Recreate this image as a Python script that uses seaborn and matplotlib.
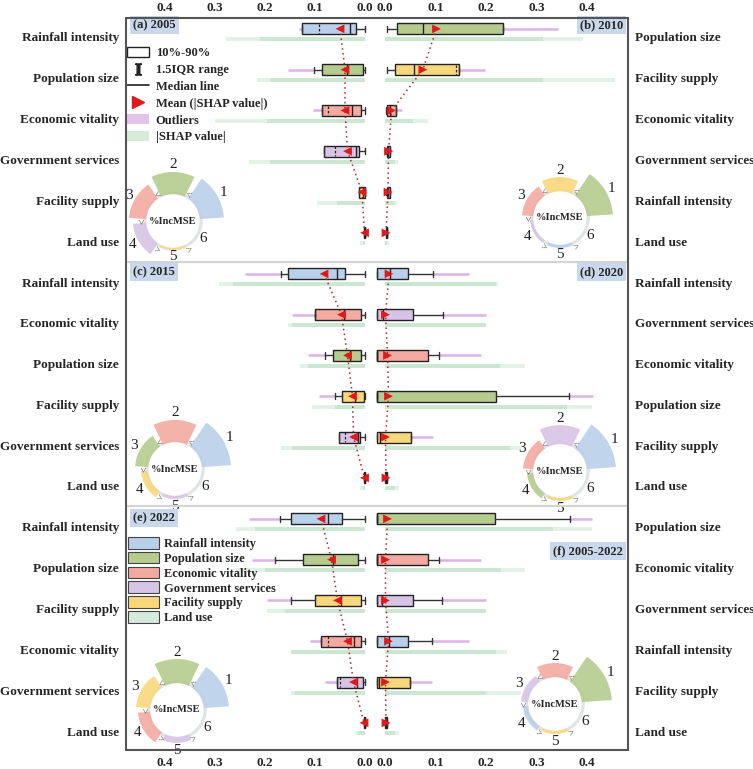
import numpy as np
import matplotlib
matplotlib.use("Agg")
import matplotlib.pyplot as plt
import seaborn as sns
import pandas as pd
from matplotlib.patches import Patch, Rectangle
from matplotlib.lines import Line2D

# ---------------- data ----------------
COLORS = {
    "Rainfall intensity": "#b9d0ea",
    "Population size": "#b5cc8e",
    "Economic vitality": "#f2aaa1",
    "Government services": "#d7c5e5",
    "Facility supply": "#f9d87d",
    "Land use": "#d3eadc",
}
PANELS = ["a", "b", "c", "d", "e", "f"]
TITLES = {"a": "(a) 2005", "b": "(b) 2010", "c": "(c) 2015",
          "d": "(d) 2020", "e": "(e) 2022", "f": "(f) 2005-2022"}

order = {
    "a": ["Rainfall intensity", "Population size", "Economic vitality",
          "Government services", "Facility supply", "Land use"],
    "b": ["Population size", "Facility supply", "Economic vitality",
          "Government services", "Rainfall intensity", "Land use"],
    "c": ["Rainfall intensity", "Economic vitality", "Population size",
          "Facility supply", "Government services", "Land use"],
    "d": ["Rainfall intensity", "Government services", "Economic vitality",
          "Population size", "Facility supply", "Land use"],
    "e": ["Rainfall intensity", "Population size", "Facility supply",
          "Economic vitality", "Government services", "Land use"],
    "f": ["Population size", "Economic vitality", "Government services",
          "Rainfall intensity", "Facility supply", "Land use"],
}
# box statistics of |SHAP value|
whislo = {
    "a": [0.0, 0.0, 0.0, 0.0, 0.0, 0.0],
    "b": [0.003, 0.003, 0.002, 0.002, 0.002, 0.001],
    "c": [0.0, 0.0, 0.0, 0.0, 0.0, 0.0],
    "d": [-0.016, -0.016, -0.016, -0.016, -0.016, 0.0],
    "e": [0.0, 0.0, 0.0, 0.0, 0.0, 0.0],
    "f": [-0.016, -0.016, -0.016, -0.016, -0.016, 0.0],
}
q1 = {
    "a": [0.018, 0.005, 0.009, 0.013, 0.001, 0.0],
    "b": [0.023, 0.019, 0.004, 0.003, 0.003, 0.002],
    "c": [0.040, 0.008, 0.008, 0.003, 0.010, 0.0],
    "d": [-0.016, -0.016, -0.016, -0.016, -0.016, 0.0],
    "e": [0.047, 0.015, 0.009, 0.009, 0.005, 0.0],
    "f": [-0.016, -0.016, -0.016, -0.016, -0.016, 0.0],
}
median = {
    "a": [0.030, 0.037, 0.027, 0.019, 0.004, 0.001],
    "b": [0.076, 0.058, 0.010, 0.006, 0.005, 0.003],
    "c": [0.057, 0.042, 0.030, 0.021, 0.015, 0.001],
    "d": [0.010, -0.003, -0.015, -0.015, -0.009, 0.002],
    "e": [0.075, 0.065, 0.049, 0.023, 0.017, 0.001],
    "f": [-0.015, -0.015, -0.005, 0.007, -0.011, 0.002],
}
q3 = {
    "a": [0.127, 0.087, 0.087, 0.083, 0.012, 0.003],
    "b": [0.233, 0.147, 0.022, 0.010, 0.009, 0.004],
    "c": [0.155, 0.100, 0.065, 0.047, 0.053, 0.003],
    "d": [0.046, 0.055, 0.085, 0.219, 0.051, 0.004],
    "e": [0.148, 0.125, 0.101, 0.088, 0.057, 0.003],
    "f": [0.218, 0.085, 0.055, 0.045, 0.050, 0.004],
}
whishi = {
    "a": [0.127, 0.102, 0.087, 0.083, 0.012, 0.003],
    "b": [0.233, 0.147, 0.022, 0.010, 0.009, 0.004],
    "c": [0.168, 0.100, 0.080, 0.060, 0.053, 0.003],
    "d": [0.096, 0.114, 0.107, 0.365, 0.051, 0.004],
    "e": [0.171, 0.180, 0.149, 0.088, 0.057, 0.003],
    "f": [0.366, 0.106, 0.113, 0.094, 0.050, 0.004],
}
outlier_max = {
    "a": [0.132, 0.154, 0.105, 0.083, 0.012, 0.003],
    "b": [0.343, 0.198, 0.033, 0.013, 0.011, 0.005],
    "c": [0.240, 0.147, 0.115, 0.092, 0.053, 0.004],
    "d": [0.167, 0.200, 0.191, 0.412, 0.095, 0.005],
    "e": [0.233, 0.227, 0.197, 0.111, 0.080, 0.004],
    "f": [0.409, 0.191, 0.200, 0.167, 0.094, 0.005],
}
mean_shap = {
    "a": [0.050, 0.040, 0.040, 0.035, 0.006, 0.001],
    "b": [0.102, 0.075, 0.013, 0.007, 0.006, 0.002],
    "c": [0.082, 0.047, 0.035, 0.025, 0.023, 0.001],
    "d": [0.008, 0.001, 0.005, 0.007, 0.001, 0.002],
    "e": [0.088, 0.067, 0.055, 0.035, 0.023, 0.002],
    "f": [0.005, 0.001, 0.001, 0.007, 0.001, 0.002],
}
inner_dash = {
    "a": [0.092, None, 0.075, 0.060, None, None],
    "b": [None, 0.141, None, None, None, None],
    "c": [None, 0.100, None, None, 0.040, None],
    "d": [None, None, None, None, None, None],
    "e": [None, None, None, 0.075, 0.050, None],
    "f": [None, None, None, None, None, None],
}
# extent of |SHAP value| samples (full and dense part)
shap_max = {
    "a": [0.277, 0.217, 0.300, 0.233, 0.097, 0.010],
    "b": [0.392, 0.456, 0.086, 0.026, 0.024, 0.008],
    "c": [0.293, 0.154, 0.130, 0.107, 0.168, 0.010],
    "d": [0.224, 0.200, 0.277, 0.410, 0.270, 0.028],
    "e": [0.257, 0.257, 0.197, 0.149, 0.149, 0.020],
    "f": [0.410, 0.277, 0.200, 0.241, 0.270, 0.028],
}
shap_dense = {
    "a": [0.210, 0.190, 0.197, 0.190, 0.057, 0.005],
    "b": [0.313, 0.313, 0.056, 0.020, 0.018, 0.004],
    "c": [0.264, 0.147, 0.115, 0.060, 0.147, 0.005],
    "d": [0.220, 0.200, 0.228, 0.360, 0.247, 0.020],
    "e": [0.220, 0.200, 0.160, 0.149, 0.140, 0.015],
    "f": [0.333, 0.230, 0.200, 0.220, 0.200, 0.020],
}
# %IncMSE ring (relative importance, rank 1..6)
incmse = {
    "a": [24, 22, 17, 13, 2, 1],
    "b": [26, 14, 11, 3, 3, 1],
    "c": [29, 22, 13, 7, 3, 1],
    "d": [29, 19, 10, 6, 3, 1],
    "e": [25, 24, 14, 12, 6, 1],
    "f": [30, 14, 7, 5, 3, 1],
}
TICKS = [0.0, 0.1, 0.2, 0.3, 0.4]

# ---------------- style ----------------
sns.set_theme(style="white")
plt.rcParams["font.family"] = ["Liberation Serif", "DejaVu Serif"]
plt.rcParams["font.weight"] = "bold"
plt.rcParams["mathtext.fontset"] = "stix"

W, H, DPI = 753, 769, 100
fig = plt.figure(figsize=(W / DPI, H / DPI), dpi=DPI)
fig.patch.set_facecolor("white")


def px_rect(x0, y0, x1, y1):
    return [x0 / W, 1 - y1 / H, (x1 - x0) / W, (y1 - y0) / H]


ROWS = [(18, 262), (262, 506), (506, 750)]
FIRST_LABEL_Y = [37, 282, 527]
STEP = 40.8
LEFT_X = (126, 372)
RIGHT_X = (375, 628)
LZERO, RZERO, SCALE_L, SCALE_R = 365, 385, 500, 505
RED = "#e0191b"
FS = 9.5

layout = {"a": (0, "L"), "b": (0, "R"), "c": (1, "L"),
          "d": (1, "R"), "e": (2, "L"), "f": (2, "R")}

for p in PANELS:
    row, side = layout[p]
    y0, y1 = ROWS[row]
    if side == "L":
        ax = fig.add_axes(px_rect(LEFT_X[0], y0, LEFT_X[1], y1))
        ax.set_xlim((LZERO - LEFT_X[0]) / SCALE_L, (LZERO - LEFT_X[1]) / SCALE_L)
    else:
        ax = fig.add_axes(px_rect(RIGHT_X[0], y0, RIGHT_X[1], y1))
        ax.set_xlim((RIGHT_X[0] - RZERO) / SCALE_R, (RIGHT_X[1] - RZERO) / SCALE_R)
    fy = FIRST_LABEL_Y[row]
    ax.set_ylim((y1 - fy) / STEP, (y0 - fy) / STEP)
    ax.patch.set_alpha(0)
    for s in ax.spines.values():
        s.set_visible(False)

    cats = np.arange(6)
    box_pos = cats - 0.2
    strip_pos = cats + 0.06
    cols = [COLORS[v] for v in order[p]]

    # |SHAP value| strips
    ax.barh(strip_pos, shap_max[p], height=0.1, left=0, color="#e3f2e6",
            edgecolor="none", zorder=1)
    ax.barh(strip_pos, shap_dense[p], height=0.1, left=0, color="#cbe7d1",
            edgecolor="none", zorder=1.1)
    # outliers
    ax.hlines(box_pos, whishi[p], outlier_max[p], color="#dcb3e8", lw=1.8,
              zorder=2)
    # boxes
    stats = [dict(med=median[p][i], q1=q1[p][i], q3=q3[p][i],
                  whislo=whislo[p][i], whishi=whishi[p][i], fliers=[])
             for i in range(6)]
    bp = ax.bxp(stats, positions=box_pos, widths=0.27, orientation="horizontal",
                patch_artist=True, showfliers=False, manage_ticks=False,
                boxprops=dict(edgecolor="#222222", linewidth=1.0),
                whiskerprops=dict(color="#333333", linewidth=1.0),
                capprops=dict(color="#333333", linewidth=1.0),
                medianprops=dict(color="#222222", linewidth=1.0),
                capwidths=0.15, zorder=3)
    for patch, c in zip(bp["boxes"], cols):
        patch.set_facecolor(c)
    for i, d in enumerate(inner_dash[p]):
        if d is not None:
            ax.vlines(d, box_pos[i] - 0.12, box_pos[i] + 0.12, color="#222222",
                      lw=0.9, linestyles=(0, (2, 1.5)), zorder=3.5)
    # mean |SHAP| line and markers (seaborn)
    dfm = pd.DataFrame({"mean": mean_shap[p], "pos": box_pos})
    sns.lineplot(data=dfm, x="mean", y="pos", sort=False, estimator=None,
                 orient="y", color="#b3262a", lw=1.1, linestyle=(0, (1, 2.2)),
                 ax=ax, zorder=4)
    sns.scatterplot(data=dfm, x="mean", y="pos",
                    marker="<" if side == "L" else ">", color=RED, s=40,
                    edgecolor="none", ax=ax, zorder=5)
    ax.set_xlabel("")
    ax.set_ylabel("")

    ax.set_yticks(cats)
    ax.set_yticklabels(order[p], fontsize=FS, fontweight="bold")
    if side == "R":
        ax.yaxis.tick_right()
    ax.tick_params(axis="y", length=0, pad=5)
    ax.set_xticks(TICKS)
    ax.set_xticklabels([f"{t:.1f}" for t in TICKS], fontsize=FS,
                       fontweight="bold")
    if row == 0:
        ax.xaxis.tick_top()
        ax.tick_params(axis="x", length=0, pad=3)
    elif row == 2:
        ax.tick_params(axis="x", length=0, pad=5)
    else:
        ax.tick_params(axis="x", length=0, labelbottom=False)

# frame and separators
fig.add_artist(Rectangle((126 / W, 1 - 750 / H), (628 - 126) / W, (750 - 18) / H,
                         transform=fig.transFigure, fill=False, ec="#555555",
                         lw=1.5, zorder=10))
for yy in (262, 506):
    fig.add_artist(Line2D([127 / W, 627 / W], [1 - yy / H] * 2,
                          transform=fig.transFigure, color="#d4d4d4", lw=1.5))

# panel titles
title_pos = {"a": (133, 25, "left"), "b": (623, 25, "right"),
             "c": (133, 272, "left"), "d": (623, 272, "right"),
             "e": (133, 518, "left"), "f": (623, 551, "right")}
for p, (tx, ty, ha) in title_pos.items():
    fig.text(tx / W, 1 - ty / H, TITLES[p], ha=ha, va="center", fontsize=9,
             fontweight="bold",
             bbox=dict(boxstyle="square,pad=0.25", fc="#c9d8ea", ec="none"))

# %IncMSE rings
centers = {"a": (173, 221), "b": (560, 218), "c": (175, 469),
           "d": (560, 471), "e": (177, 710), "f": (555, 704)}
R_IN, R_AX = 27, 66
theta_c = np.deg2rad([30, 90, 150, 210, 270, 330])
for p in PANELS:
    cx, cy = centers[p]
    pax = fig.add_axes(px_rect(cx - R_AX, cy - R_AX, cx + R_AX, cy + R_AX),
                       projection="polar")
    pax.set_ylim(0, R_AX)
    pax.axis("off")
    t = np.linspace(0, 2 * np.pi, 300)
    pax.plot(t, np.full_like(t, R_IN + 1.2), color="#e4e4e4", lw=2.2, zorder=1)
    cols = [COLORS[v] for v in order[p]]
    pax.bar(theta_c, incmse[p], width=np.deg2rad(52), bottom=R_IN, color=cols,
            edgecolor="none", alpha=0.9, zorder=2)
    for k, ang in enumerate([60, 120, 180, 240, 300]):
        pax.text(np.deg2rad(ang), R_IN + 3, "<", rotation=ang - 90,
                 rotation_mode="anchor", ha="center", va="center",
                 fontsize=7, fontweight="normal", color="#444444", zorder=3)
    for k in range(6):
        pax.text(theta_c[k], R_IN + incmse[p][k] + 7, str(k + 1), ha="center",
                 va="center", fontsize=11, fontweight="normal", color="#222222")
    pax.text(0, 0, "%IncMSE", ha="center", va="center", fontsize=7.5,
             fontweight="bold")

# legend (a): symbol key
h1 = [Patch(facecolor="white", edgecolor="#222222", lw=1.0),
      Line2D([], [], marker=r"$\mathrm{I}$", color="#222222", ls="none",
             markersize=8),
      Line2D([], [], color="#222222", lw=1.2),
      Line2D([], [], marker=">", color=RED, ls="none", markersize=8),
      Patch(facecolor="#e3c3ee", edgecolor="none"),
      Patch(facecolor="#d5ecda", edgecolor="none")]
l1 = ["10%-90%", "1.5IQR range", "Median line", "Mean (|SHAP value|)",
      "Outliers", "|SHAP value|"]
fig.legend(h1, l1, loc="upper left", bbox_to_anchor=(127 / W, 1 - 47 / H),
           frameon=False, fontsize=9, handlelength=1.8, handleheight=0.9,
           labelspacing=0.34, handletextpad=0.5, borderaxespad=0,
           borderpad=0)

# legend (e): variable colors
var_names = ["Rainfall intensity", "Population size", "Economic vitality",
             "Government services", "Facility supply", "Land use"]
h2 = [Patch(facecolor=COLORS[v], edgecolor="#444444", lw=0.8) for v in var_names]
fig.legend(h2, var_names, loc="upper left", bbox_to_anchor=(128 / W, 1 - 537 / H),
           frameon=False, fontsize=9, handlelength=2.5, handleheight=1.05,
           labelspacing=0.14, handletextpad=0.35, borderaxespad=0,
           borderpad=0)

fig.savefig("out.png", dpi=DPI, facecolor="white")
